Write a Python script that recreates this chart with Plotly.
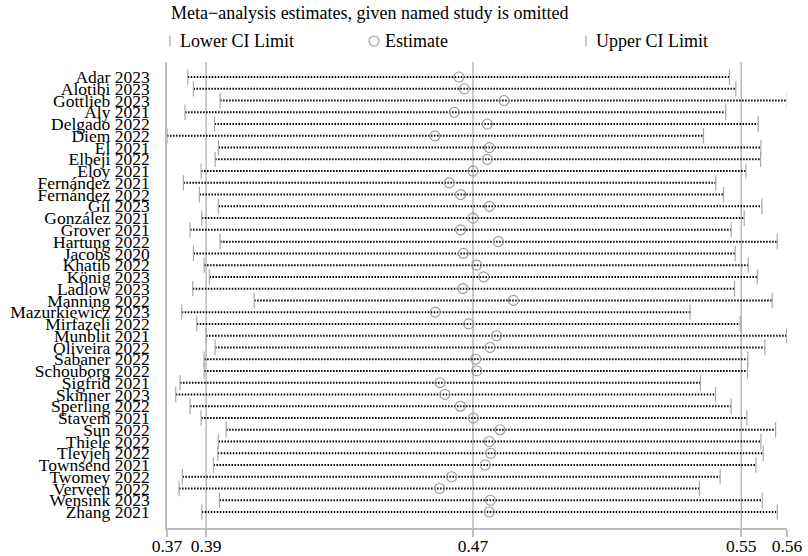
import plotly.graph_objects as go

studies = ["Adar 2023", "Alotibi 2023", "Gottlieb 2023", "Aly 2021", "Delgado 2022", "Diem 2022",
           "El 2021", "Elbeji 2022", "Eloy 2021", "Fernández 2021", "Fernández 2022", "Gil 2023",
           "González 2021", "Grover 2021", "Hartung 2022", "Jacobs 2020", "Khatib 2022", "König 2023",
           "Ladlow 2023", "Manning 2022", "Mazurkiewicz 2023", "Mirfazeli 2022", "Munblit 2021",
           "Oliveira 2022", "Sabaner 2022", "Schouborg 2022", "Sigfrid 2021", "Skinner 2023",
           "Sperling 2022", "Stavem 2021", "Sun 2022", "Thiele 2022", "Tleyjeh 2022", "Townsend 2021",
           "Twomey 2022", "Verveen 2022", "Wensink 2023", "Zhang 2021"]

lower = [0.3807, 0.3824, 0.3904, 0.3799, 0.3887, 0.3745,
         0.3899, 0.3889, 0.3847, 0.3794, 0.3842, 0.3899,
         0.3849, 0.3814, 0.3904, 0.3824, 0.3856, 0.3872,
         0.3822, 0.4006, 0.3789, 0.3834, 0.3862,
         0.3889, 0.3856, 0.3856, 0.3784, 0.3771,
         0.3814, 0.3847, 0.3922, 0.3899, 0.3897, 0.3884,
         0.3791, 0.3781, 0.3902, 0.3849]

estimate = [0.4619, 0.4635, 0.4754, 0.4605, 0.4704, 0.4547,
            0.4710, 0.4704, 0.4661, 0.4590, 0.4624, 0.4710,
            0.4661, 0.4624, 0.4737, 0.4632, 0.4672, 0.4693,
            0.4631, 0.4782, 0.4548, 0.4648, 0.4732,
            0.4712, 0.4669, 0.4672, 0.4562, 0.4577,
            0.4623, 0.4662, 0.4742, 0.4710, 0.4714, 0.4698,
            0.4597, 0.4561, 0.4713, 0.4710]

upper = [0.5429, 0.5448, 0.5602, 0.5418, 0.5515, 0.5351,
         0.5523, 0.5522, 0.5478, 0.5388, 0.5411, 0.5526,
         0.5473, 0.5434, 0.5572, 0.5446, 0.5485, 0.5512,
         0.5444, 0.5557, 0.5311, 0.5461, 0.5600,
         0.5535, 0.5484, 0.5483, 0.5342, 0.5387,
         0.5434, 0.5481, 0.5567, 0.5523, 0.5530, 0.5508,
         0.5401, 0.5339, 0.5527, 0.5572]

tick_values = [0.3745, 0.3862, 0.4661, 0.5464, 0.5601]
tick_labels = ["0.37", "0.39", "0.47", "0.55", "0.56"]
overall_lines = [0.3862, 0.4661, 0.5464]

title_text = "Meta\u2212analysis estimates, given named study is omitted"
legend_labels = ["Lower CI Limit", "Estimate", "Upper CI Limit"]

FONT = "Liberation Serif, Times New Roman, serif"
GRAY = "#a9a9a9"
n = len(studies)
rows = list(range(n))

seg_x, seg_y = [], []
for lo, hi, r in zip(lower, upper, rows):
    seg_x += [lo, hi, None]
    seg_y += [r, r, None]

fig = go.Figure()
fig.add_trace(go.Scatter(x=seg_x, y=seg_y, mode="lines",
                         line=dict(color="black", width=2.0, dash="1.5px,1.5px"),
                         hoverinfo="skip", showlegend=False))
fig.add_trace(go.Scatter(x=lower, y=rows, mode="markers",
                         marker=dict(symbol="line-ns", size=11,
                                     line=dict(color=GRAY, width=1.2)),
                         showlegend=False))
fig.add_trace(go.Scatter(x=upper, y=rows, mode="markers",
                         marker=dict(symbol="line-ns", size=11,
                                     line=dict(color=GRAY, width=1.2)),
                         showlegend=False))
fig.add_trace(go.Scatter(x=estimate, y=rows, mode="markers",
                         marker=dict(symbol="circle-open", size=10, color="#999999",
                                     line=dict(width=1.1)),
                         showlegend=False))

for v in overall_lines:
    fig.add_shape(type="line", xref="x", yref="paper", x0=v, x1=v, y0=0, y1=1,
                  line=dict(color=GRAY, width=1.2), layer="below")

# Legend (drawn above plot area)
W_PLOT, H_PLOT, L, T = 620.0, 466.0, 167.0, 62.0
def px_x(p):
    return (p - L) / W_PLOT
def px_y(p):
    return (T + H_PLOT - p) / H_PLOT

leg_y = 41
for xpos in (170, 586):
    fig.add_shape(type="line", xref="paper", yref="paper",
                  x0=px_x(xpos), x1=px_x(xpos), y0=px_y(leg_y - 5.5), y1=px_y(leg_y + 5.5),
                  line=dict(color=GRAY, width=1.2))
fig.add_shape(type="circle", xref="paper", yref="paper",
              x0=px_x(369), x1=px_x(379), y0=px_y(leg_y + 5), y1=px_y(leg_y - 5),
              line=dict(color="#999999", width=1.1))
for xpos, txt in zip((178, 383, 594), legend_labels):
    fig.add_annotation(text=txt, xref="paper", yref="paper", x=px_x(xpos), y=px_y(leg_y),
                       xanchor="left", yanchor="middle", showarrow=False,
                       font=dict(family=FONT, size=18, color="black"))
fig.add_annotation(text=title_text, xref="paper", yref="paper", x=px_x(169), y=px_y(13),
                   xanchor="left", yanchor="middle", showarrow=False,
                   font=dict(family=FONT, size=18, color="black"))

fig.update_layout(
    width=808, height=556,
    margin=dict(l=167, r=21, t=62, b=28, pad=0, autoexpand=False),
    paper_bgcolor="white", plot_bgcolor="white",
    font=dict(family=FONT, size=17.5, color="black"),
    showlegend=False,
    xaxis=dict(range=[0.37449, 0.56011], tickvals=tick_values, ticktext=tick_labels,
               showgrid=False, zeroline=False, showline=True, linecolor="#bdbdbd", linewidth=1.5,
               ticks="outside", ticklen=7, tickcolor="#bdbdbd", tickwidth=1.5,
               automargin=False, ticklabelstandoff=-6,
               tickfont=dict(family=FONT, size=17.5, color="black")),
    yaxis=dict(range=[38.36, -1.28], tickvals=rows, ticktext=studies,
               showgrid=False, zeroline=False, showline=True, linecolor="#bdbdbd", linewidth=1.5,
               ticks="", ticklabelstandoff=12, automargin=False,
               tickfont=dict(family=FONT, size=17.5, color="black")),
)

fig.write_html("out.html")
